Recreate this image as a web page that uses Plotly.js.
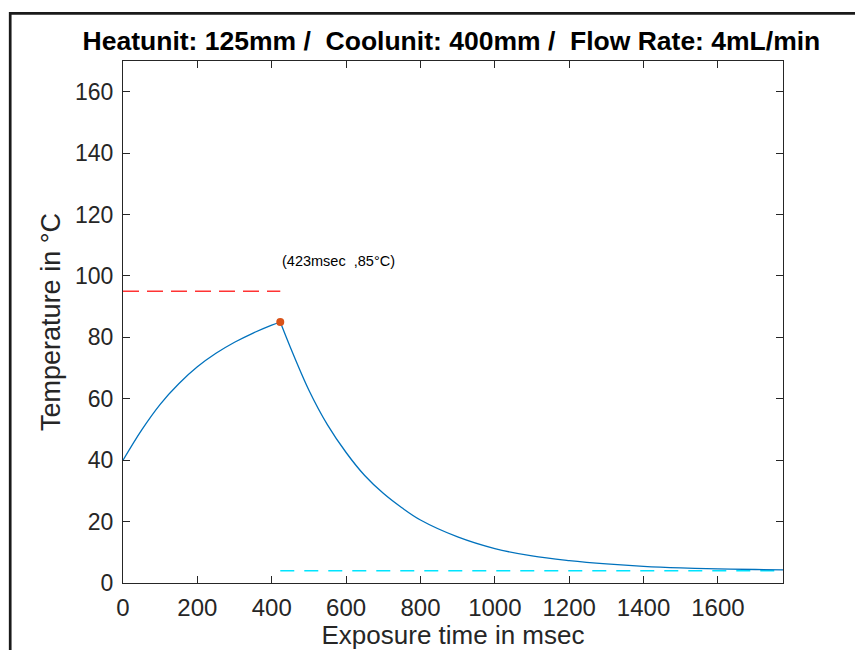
<!DOCTYPE html>
<html>
<head>
<meta charset="utf-8">
<script src="https://cdn.plot.ly/plotly-3.0.1.min.js"></script>
<style>html,body{margin:0;padding:0;background:#fff;}#chart{width:855px;height:650px;}</style>
</head>
<body>
<div id="chart"></div>
<script>
// Heating phase
const heatTime = [0, 50, 100, 150, 200, 250, 300, 350, 400, 423];
const heatTemp = [40, 49.8, 58.2, 64.9, 70.4, 74.8, 78.4, 81.4, 84.0, 85];
// Cooling phase
const coolTime = [423, 450, 500, 550, 600, 650, 700, 750, 800, 900, 1000, 1100, 1200, 1300, 1400, 1500, 1600, 1700, 1775];
const coolTemp = [85, 76.8, 62.8, 51.5, 42.5, 35.0, 29.2, 24.5, 20.5, 15.0, 11.2, 8.8, 7.3, 6.2, 5.4, 4.9, 4.6, 4.4, 4.3];
// Reference lines and peak
const targetTime = [0, 423];
const targetTemp = [95, 95];
const baseTime = [423, 1775];
const baseTemp = [4, 4];
const peakTime = [423];
const peakTemp = [85];
const peakLabel = '(423msec\u00a0 ,85°C)';
const titleText = 'Heatunit: 125mm /\u00a0 Coolunit: 400mm /\u00a0 Flow Rate: 4mL/min';
const xLabel = 'Exposure time in msec';
const yLabel = 'Temperature in °C';

const FONT = 'Liberation Sans, Arial, Helvetica, sans-serif';
const AX = '#262626';

const traces = [
  {x: targetTime, y: targetTemp, mode: 'lines', line: {color: '#ff3333', width: 1.5, dash: '16px,8px'}, hoverinfo: 'skip'},
  {x: baseTime, y: baseTemp, mode: 'lines', line: {color: '#00e5ff', width: 1.5, dash: '14px,10px'}, hoverinfo: 'skip'},
  {x: heatTime, y: heatTemp, mode: 'lines', line: {color: '#0072BD', width: 1.3, shape: 'spline', smoothing: 1}},
  {x: coolTime, y: coolTemp, mode: 'lines', line: {color: '#0072BD', width: 1.3, shape: 'spline', smoothing: 1}},
  {x: peakTime, y: peakTemp, mode: 'markers', marker: {color: '#D95319', size: 8}}
];

const axisCommon = {
  showgrid: false, zeroline: false, showline: true, linecolor: AX, linewidth: 1,
  mirror: 'ticks', ticks: 'inside', ticklen: 7, tickwidth: 1, tickcolor: AX,
  tickfont: {family: FONT, size: 24, color: AX}, automargin: false
};

const layout = {
  width: 855, height: 650,
  margin: {l: 123, r: 72, t: 61, b: 67},
  paper_bgcolor: '#fff', plot_bgcolor: '#fff',
  showlegend: false,
  title: {text: '<b>' + titleText + '</b>', font: {family: FONT, size: 26.5, color: '#000'},
          xref: 'container', x: 0.528, xanchor: 'center', yref: 'container', y: 1 - 40.5 / 650, yanchor: 'middle'},
  xaxis: Object.assign({}, axisCommon, {
    range: [0, 1775], tickvals: [0, 200, 400, 600, 800, 1000, 1200, 1400, 1600],
    ticklabelstandoff: 3,
    title: {text: xLabel, font: {family: FONT, size: 26, color: AX}, standoff: 6}
  }),
  yaxis: Object.assign({}, axisCommon, {
    range: [0, 170], tickvals: [0, 20, 40, 60, 80, 100, 120, 140, 160],
    tickfont: {family: FONT, size: 23, color: AX},
    ticklabelstandoff: 4,
    title: {text: yLabel, font: {family: FONT, size: 27, color: AX}, standoff: 6}
  }),
  annotations: [{
    x: peakTime[0], y: 105, xref: 'x', yref: 'y', text: peakLabel, showarrow: false,
    xanchor: 'left', yanchor: 'middle', font: {family: FONT, size: 14.5, color: '#000'}
  }],
  shapes: [{
    type: 'path', xref: 'paper', yref: 'paper',
    path: 'M -0.1709,-0.3 L -0.1709,1.0914 L 1.2,1.0914',
    line: {color: '#1a1a1a', width: 2.7}
  }]
};

Plotly.newPlot('chart', traces, layout, {displayModeBar: false, staticPlot: true});
</script>
</body>
</html>
